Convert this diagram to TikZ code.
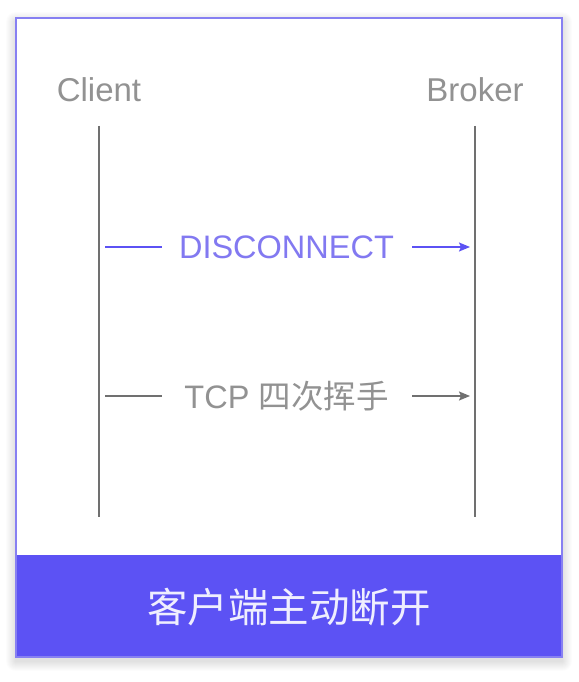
\documentclass[tikz,border=0pt]{standalone}
\usepackage{fontspec}
\setmainfont{Liberation Sans}
\newfontfamily\cjk{Noto Sans CJK SC}
\usetikzlibrary{arrows.meta}
\definecolor{mpurple}{HTML}{5C52F4}
\definecolor{lpurple}{HTML}{8780F2}
\definecolor{tpurple}{HTML}{8279F1}
\definecolor{tgray}{HTML}{929292}
\definecolor{lgray}{HTML}{707070}
\tikzset{
  actor/.style={font=\fontsize{33}{33}\selectfont, text=tgray, inner sep=0pt},
  life/.style={draw=lgray, line width=1.6pt},
  msg/.style={font=\fontsize{32.5}{32.5}\selectfont, inner sep=0pt},
  arr/.style={line width=1.5pt, -{Stealth[length=11pt,width=9pt,inset=2pt]}},
  seg/.style={line width=1.5pt},
  shadowlayer/.style={fill=black, fill opacity=0.012}
}
\begin{document}
\begin{tikzpicture}[x=1pt,y=-1pt]
\useasboundingbox (0,0) rectangle (578,682);
\fill[white] (0,0) rectangle (578,682);
% soft shadow
\foreach \r in {1,2,...,10} {
  \fill[shadowlayer, rounded corners=\r pt] (16-\r,18-\r+4) rectangle (562+\r,657+\r+4);
}
\fill[white] (16,18) rectangle (562,657);
\fill[mpurple] (16,555) rectangle (562,657);
\draw[lpurple, line width=1.5pt] (16,18) rectangle (562,657);
% actors
\node[actor] (client) at (99,90) {Client};
\node[actor] (broker) at (475,90) {Broker};
\coordinate (ct) at (99,126);
\coordinate (cb) at (99,517);
\coordinate (bt) at (475,126);
\coordinate (bb) at (475,517);
\draw[life] (ct) -- (cb);
\draw[life] (bt) -- (bb);
% DISCONNECT
\node[msg, text=tpurple] (disc) at (286.5,247) {DISCONNECT};
\coordinate (d1) at (105,247);
\coordinate (d2) at (162,247);
\coordinate (d3) at (412,247);
\coordinate (d4) at (470,247);
\draw[seg, mpurple] (d1) -- (d2);
\draw[arr, mpurple] (d3) -- (d4);
% TCP
\node[msg, text=tgray] (tcp) at (286.5,396) {TCP {\cjk 四次挥手}};
\coordinate (t1) at (105,396);
\coordinate (t2) at (162,396);
\coordinate (t3) at (412,396);
\coordinate (t4) at (470,396);
\draw[seg, lgray] (t1) -- (t2);
\draw[arr, lgray] (t3) -- (t4);
% bottom label
\node[inner sep=0pt, text=white!90!mpurple, font=\cjk\fontsize{40.5}{40.5}\selectfont] (title) at (289,607) {客户端主动断开};
\end{tikzpicture}
\end{document}
